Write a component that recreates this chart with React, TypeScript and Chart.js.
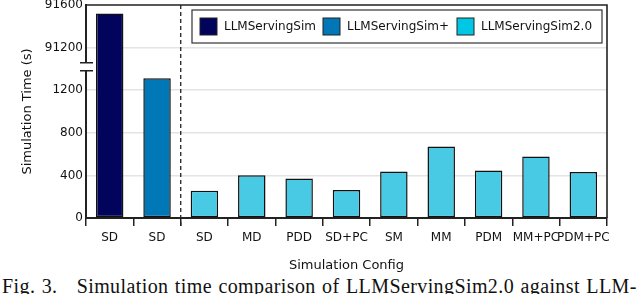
import React, { useEffect, useRef } from "react";
import { Chart, registerables } from "chart.js";

Chart.register(...registerables);

const categories = ["SD", "SD", "SD", "MD", "PDD", "SD+PC", "SM", "MM", "PDM", "MM+PC", "PDM+PC"];
const seriesNames = ["LLMServingSim", "LLMServingSim+", "LLMServingSim2.0"];
const llmServingSim = [91520, null, null, null, null, null, null, null, null, null, null];
const llmServingSimPlus = [null, 1312, null, null, null, null, null, null, null, null, null];
const llmServingSim2 = [null, null, 256, 402, 370, 264, 437, 672, 447, 578, 431];
const yTickLabels = ["0", "400", "800", "1200", "91200", "91600"];
const barColors = ["#02035a", "#0077b6", "#48cae4"];
const legendColors = ["#02035a", "#0077b6", "#00c8e4"];

// broken axis: values above the break are shifted down by this offset
const BREAK_OFFSET = 89600;
const toAxis = (v: number | null) => (v === null ? null : v > 5000 ? v - BREAK_OFFSET : v);

const FONT = "'DejaVu Sans', sans-serif";

export default function App() {
  const ref = useRef<HTMLCanvasElement | null>(null);

  useEffect(() => {
    if (!ref.current) return;
    const decor = {
      id: "decor",
      afterDatasetsDraw(chart: any) {
        const { ctx, chartArea } = chart;
        const x = chart.scales.x;
        const y = chart.scales.y;
        ctx.save();
        // frame top & right
        ctx.strokeStyle = "#222";
        ctx.lineWidth = 1.6;
        ctx.beginPath();
        ctx.moveTo(chartArea.left, chartArea.top);
        ctx.lineTo(chartArea.right, chartArea.top);
        ctx.lineTo(chartArea.right, chartArea.bottom);
        ctx.stroke();
        // dashed separator
        const sx = (x.getPixelForValue(1) + x.getPixelForValue(2)) / 2;
        ctx.setLineDash([4, 3]);
        ctx.lineWidth = 1.3;
        ctx.beginPath();
        ctx.moveTo(sx, chartArea.top);
        ctx.lineTo(sx, chartArea.bottom + 10);
        ctx.stroke();
        ctx.setLineDash([]);
        // axis break
        const by = y.getPixelForValue(1420);
        const ax = chartArea.left;
        ctx.fillStyle = "#fff";
        ctx.fillRect(ax - 3, by - 4, 6, 8);
        ctx.strokeStyle = "#222";
        ctx.lineWidth = 1.3;
        ctx.beginPath();
        ctx.moveTo(ax - 6, by - 4);
        ctx.lineTo(ax + 7, by - 4);
        ctx.moveTo(ax - 6, by + 4);
        ctx.lineTo(ax + 7, by + 4);
        ctx.stroke();
        // legend
        const lx = 192, ly = 10, lw = 410, lh = 33;
        ctx.fillStyle = "#fff";
        ctx.fillRect(lx, ly, lw, lh);
        ctx.strokeStyle = "#333";
        ctx.lineWidth = 1.2;
        ctx.strokeRect(lx, ly, lw, lh);
        ctx.font = "12px " + FONT;
        ctx.textBaseline = "middle";
        ctx.textAlign = "left";
        const swX = [200, 323, 457];
        seriesNames.forEach((name, i) => {
          ctx.fillStyle = legendColors[i];
          ctx.fillRect(swX[i], 18, 17, 17);
          ctx.strokeStyle = "#222";
          ctx.lineWidth = 1;
          ctx.strokeRect(swX[i], 18, 17, 17);
          ctx.fillStyle = "#111";
          ctx.fillText(name, swX[i] + 24, 27);
        });
        ctx.restore();
      },
    };

    const mk = (label: string, data: (number | null)[], i: number) => ({
      label,
      data: data.map(toAxis),
      backgroundColor: barColors[i],
      borderColor: "#111",
      borderWidth: 1.5,
      borderSkipped: false,
      grouped: false,
      barPercentage: 0.58,
      categoryPercentage: 1,
    });

    const chart = new Chart(ref.current, {
      type: "bar",
      data: {
        labels: categories,
        datasets: [
          mk(seriesNames[0], llmServingSim, 0),
          mk(seriesNames[1], llmServingSimPlus, 1),
          mk(seriesNames[2], llmServingSim2, 2),
        ],
      },
      options: {
        animation: false,
        responsive: false,
        devicePixelRatio: 1,
        layout: { padding: { top: 5, right: 33, left: 0, bottom: 0 } },
        plugins: { legend: { display: false }, tooltip: { enabled: false } },
        scales: {
          x: {
            grid: {
              offset: true,
              drawOnChartArea: false,
              drawTicks: true,
              tickLength: 8,
              color: "#222",
              lineWidth: 1.5,
            },
            border: { color: "#222", width: 2 },
            ticks: { color: "#111", font: { family: FONT, size: 12 }, padding: 5, maxRotation: 0, autoSkip: false },
            title: {
              display: true,
              text: "Simulation Config",
              color: "#111",
              font: { family: FONT, size: 13 },
              padding: { top: 0, bottom: 2 },
            },
            afterFit: (s: any) => {
              s.height = 275 - 218;
              s.paddingLeft = 0;
              s.paddingRight = 0;
            },
          },
          y: {
            min: 0,
            max: 2000,
            afterBuildTicks: (s: any) => {
              s.ticks = [0, 400, 800, 1200, 1600, 2000].map((v) => ({ value: v }));
            },
            ticks: {
              color: "#111",
              font: { family: FONT, size: 12 },
              padding: 3,
              callback: (_v: any, i: number) => yTickLabels[i],
            },
            grid: {
              drawTicks: false,
              color: (c: any) => (c.tick && (c.tick.value === 0 || c.tick.value === 2000) ? "rgba(0,0,0,0)" : "#e4e4e4"),
              lineWidth: 1.5,
            },
            border: { color: "#222", width: 2 },
            title: {
              display: true,
              text: "Simulation Time (s)",
              color: "#111",
              font: { family: FONT, size: 13 },
              padding: { top: 20, bottom: 0 },
            },
            afterFit: (s: any) => {
              s.width = 86;
              s.paddingTop = 0;
              s.paddingBottom = 0;
            },
          },
        },
      },
      plugins: [decor],
    } as any);
    return () => chart.destroy();
  }, []);

  return (
    <div style={{ position: "fixed", left: 0, top: 0, width: 640, height: 294, background: "#fff", overflow: "hidden" }}>
      <canvas ref={ref} width={640} height={275} style={{ display: "block", width: 640, height: 275 }} />
      <div
        style={{
          position: "absolute",
          left: 2,
          top: 276,
          whiteSpace: "nowrap",
          fontFamily: "'Liberation Serif', serif",
          fontSize: 20,
          lineHeight: "20px",
          letterSpacing: "0.4px",
          wordSpacing: "1px",
          color: "#111",
        }}
      >
        Fig. 3.&nbsp;&nbsp; Simulation time comparison of LLMServingSim2.0 against LLM-
      </div>
    </div>
  );
}
